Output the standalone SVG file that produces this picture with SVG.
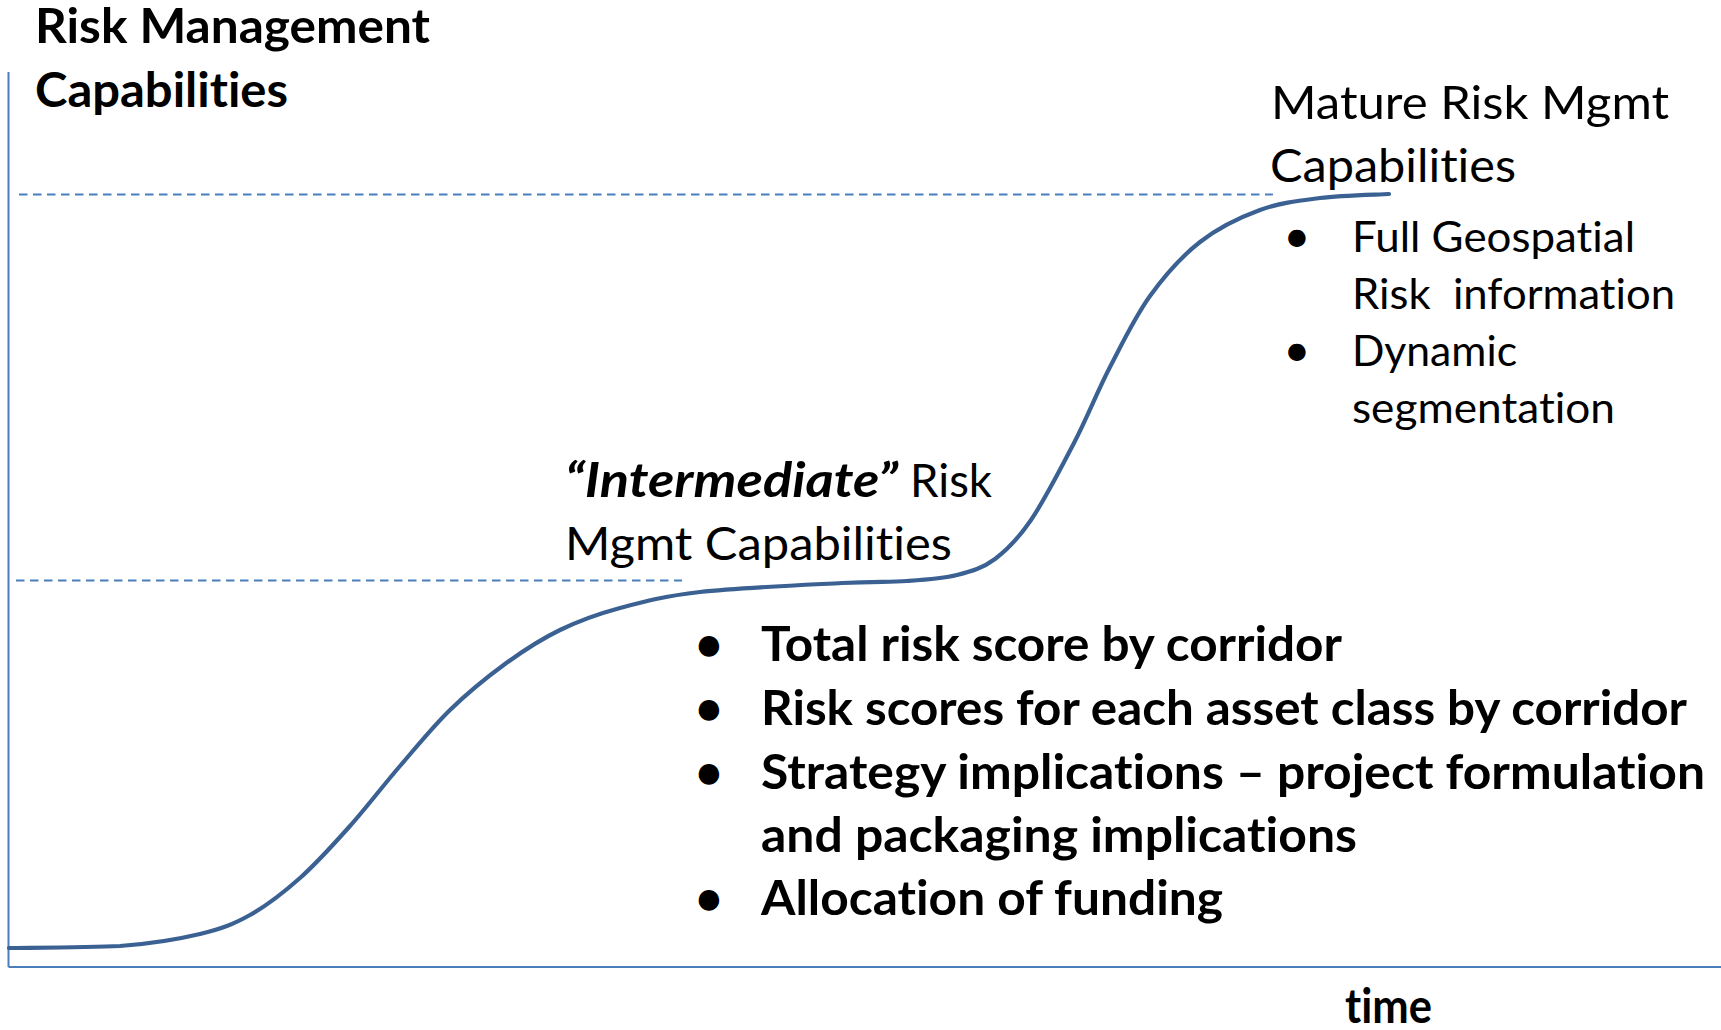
<svg xmlns="http://www.w3.org/2000/svg" width="1721" height="1030" viewBox="0 0 1721 1030">
  <style>
    .axis { stroke: #4A7EBB; stroke-width: 2; fill: none; }
    .guide { stroke: #4A7EBB; stroke-width: 1.8; stroke-dasharray: 8.5 5.5; fill: none; }
    .curve { stroke: #3B6193; stroke-width: 4.2; fill: none; stroke-linecap: round; stroke-linejoin: round; }
    text { font-family: Lato, "Open Sans", "Liberation Sans", sans-serif; fill: #000; font-variant-ligatures: none; font-feature-settings: "liga" 0, "clig" 0; }
    .big { font-size: 47px; }
    .small { font-size: 42.5px; }
    .b { font-weight: bold; }
    .bi { font-weight: bold; font-style: italic; }
    .dot { font-size: 47px; text-anchor: middle; }
  </style>

  <rect width="1721" height="1030" fill="#fff"/>

  <!-- chart axes -->
  <g id="axes">
    <line class="axis" x1="8.5" y1="72" x2="8.5" y2="967"/>
    <line class="axis" x1="8.5" y1="967" x2="1721" y2="967"/>
  </g>

  <!-- dashed level markers -->
  <g id="level-lines">
    <line class="guide" x1="19" y1="194.5" x2="1273" y2="194.5"/>
    <line class="guide" x1="16" y1="580.5" x2="682" y2="580.5"/>
  </g>

  <!-- capability growth curve -->
  <g id="growth-curve">
    <path class="curve" d="M9,948 C27.5,947.7 88,947.5 120,946 C151.8,943.7 178.3,939.2 200,934 C221.7,928.8 233.3,924.3 250,915 C266.7,905.7 283.3,892.8 300,878 C316.7,863.2 333.3,844.7 350,826 C366.7,807.3 383.3,785.3 400,766 C416.7,746.7 432.5,727 450,710 C467.5,693 486.7,677.3 505,664 C523.3,650.7 540.8,639.3 560,630 C579.2,620.7 596.7,614.3 620,608 C643.3,601.7 663,596.2 700,592 C737,587.8 807.5,584.8 842,583 C876.5,581.2 887.8,582.3 907,581 C926.2,579.7 942.3,578.7 957,575 C971.7,571.3 982.7,568.2 995,559 C1007.3,549.8 1017.8,539.3 1031,520 C1044.2,500.7 1060.8,468.5 1074,443 C1087.2,417.5 1097.3,391.5 1110,367 C1122.7,342.5 1135,316.8 1150,296 C1165,275.2 1181.7,256.3 1200,242 C1218.3,227.7 1240,217.3 1260,210 C1280,202.7 1298.5,200.7 1320,198 C1341.5,195.3 1377.5,194.7 1389,194"/>
  </g>

  <!-- vertical axis title -->
  <g id="y-axis-title">
    <text class="big b" x="35" y="43" textLength="395" lengthAdjust="spacingAndGlyphs">Risk Management</text>
    <text class="big b" x="35" y="106.5" textLength="253" lengthAdjust="spacingAndGlyphs">Capabilities</text>
  </g>

  <!-- horizontal axis title -->
  <g id="x-axis-title">
    <text class="big b" x="1345" y="1023" textLength="87" lengthAdjust="spacingAndGlyphs">time</text>
  </g>

  <!-- upper plateau label -->
  <g id="mature-label">
    <text class="big" x="1271" y="119" textLength="398" lengthAdjust="spacingAndGlyphs">Mature Risk Mgmt</text>
    <text class="big" x="1270" y="181.5" textLength="246" lengthAdjust="spacingAndGlyphs">Capabilities</text>
  </g>

  <g id="mature-bullets">
    <text class="dot" x="1297" y="251.5">•</text>
    <text class="small" x="1352" y="251.5" textLength="283" lengthAdjust="spacingAndGlyphs">Full Geospatial</text>
    <text class="small" x="1352" y="308.5" textLength="323" lengthAdjust="spacingAndGlyphs" xml:space="preserve">Risk  information</text>
    <text class="dot" x="1297" y="366">•</text>
    <text class="small" x="1352" y="366" textLength="165" lengthAdjust="spacingAndGlyphs">Dynamic</text>
    <text class="small" x="1352" y="423" textLength="263" lengthAdjust="spacingAndGlyphs">segmentation</text>
  </g>

  <!-- middle plateau label -->
  <g id="intermediate-label">
    <text class="big bi" x="565" y="496.5" textLength="333" lengthAdjust="spacingAndGlyphs">“Intermediate”</text>
    <text class="big" x="910" y="496.5" textLength="82" lengthAdjust="spacingAndGlyphs">Risk</text>
    <text class="big" x="565" y="560" textLength="387" lengthAdjust="spacingAndGlyphs">Mgmt Capabilities</text>
  </g>

  <g id="intermediate-bullets">
    <text class="dot b" x="709" y="661">•</text>
    <text class="big b" x="761" y="661" textLength="581" lengthAdjust="spacingAndGlyphs">Total risk score by corridor</text>
    <text class="dot b" x="709" y="724.5">•</text>
    <text class="big b" x="761" y="724.5" textLength="926" lengthAdjust="spacingAndGlyphs">Risk scores for each asset class by corridor</text>
    <text class="dot b" x="709" y="788.5">•</text>
    <text class="big b" x="761" y="788.5" textLength="944" lengthAdjust="spacingAndGlyphs">Strategy implications – project formulation</text>
    <text class="big b" x="761" y="851.5" textLength="596" lengthAdjust="spacingAndGlyphs">and packaging implications</text>
    <text class="dot b" x="709" y="915">•</text>
    <text class="big b" x="761" y="915" textLength="462" lengthAdjust="spacingAndGlyphs">Allocation of funding</text>
  </g>
</svg>
